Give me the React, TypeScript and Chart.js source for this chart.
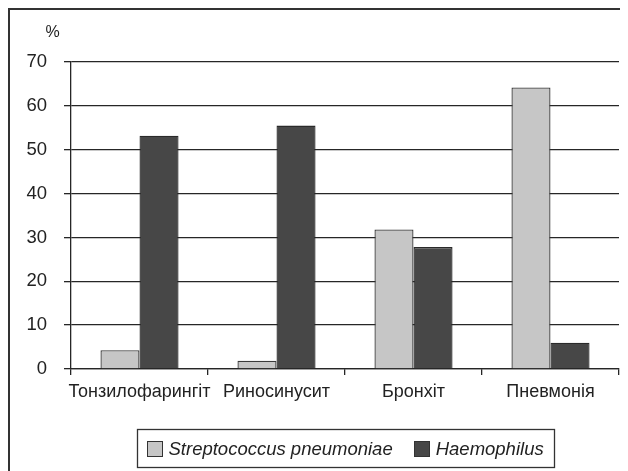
import React, { useEffect, useRef, useState } from "react";
import { Chart, registerables } from "chart.js";

Chart.register(...registerables);

const categories = ["Тонзилофарингіт", "Риносинусит", "Бронхіт", "Пневмонія"];
const streptoLabel = "Streptococcus pneumoniae";
const haemoLabel = "Haemophilus";
const streptoValues = [4.3, 1.9, 31.8, 64.2];
const haemoValues = [53.2, 55.5, 27.8, 6.0];
const yMin = 0;
const yMax = 70;
const yStep = 10;
const unitLabel = "%";

const FONT = "'Liberation Sans', Arial, sans-serif";
const LINE = "#262626";
const W = 628;
const H = 471;

const extrasPlugin = {
  id: "extras",
  beforeDraw(chart: any) {
    const { ctx } = chart;
    ctx.save();
    ctx.fillStyle = "#ffffff";
    ctx.fillRect(0, 0, W, H);
    ctx.strokeStyle = "#333";
    ctx.lineWidth = 2;
    ctx.beginPath();
    ctx.moveTo(9, H);
    ctx.lineTo(9, 9);
    ctx.lineTo(W, 9);
    ctx.stroke();
    ctx.restore();
  },
  afterDraw(chart: any) {
    const { ctx, chartArea } = chart;
    ctx.save();
    ctx.fillStyle = "#222";
    ctx.font = `16px ${FONT}`;
    ctx.textAlign = "center";
    ctx.textBaseline = "middle";
    ctx.fillText(unitLabel, 52.5, 33);

    ctx.font = `italic 18.5px ${FONT}`;
    const ds = chart.data.datasets;
    const sq = 16;
    const gapSq = 6;
    const gapItem = 21;
    const padL = 9;
    const padR = 11;
    let total = padL + padR;
    const widths = ds.map((d: any) => ctx.measureText(d.label).width);
    widths.forEach((w: number, i: number) => {
      total += sq + gapSq + w + (i < ds.length - 1 ? gapItem : 0);
    });
    total = Math.round(total);
    const cx = (chartArea.left + chartArea.right) / 2;
    const left = Math.round(cx - total / 2) + 0.5;
    const top = 429.5;
    const height = 38;
    ctx.strokeStyle = "#333";
    ctx.lineWidth = 1.3;
    ctx.strokeRect(left, top, total, height);
    const midY = top + height / 2;
    let x = left + padL;
    ds.forEach((d: any, i: number) => {
      const sx = Math.round(x);
      const sy = Math.round(midY - sq / 2);
      ctx.fillStyle = d.backgroundColor;
      ctx.fillRect(sx, sy, sq, sq);
      ctx.strokeStyle = "#333";
      ctx.lineWidth = 1;
      ctx.strokeRect(sx + 0.5, sy + 0.5, sq - 1, sq - 1);
      x += sq + gapSq;
      ctx.fillStyle = "#222";
      ctx.textAlign = "left";
      ctx.textBaseline = "middle";
      ctx.fillText(d.label, x, midY + 1);
      x += widths[i] + gapItem;
    });
    ctx.restore();
  },
};

export default function App() {
  const ref = useRef<HTMLCanvasElement>(null);
  const [err, setErr] = useState("");
  useEffect(() => {
    document.documentElement.style.overflow = "hidden";
    if (!ref.current) return;
    let chart: any = null;
    try {
      chart = new Chart(ref.current, {
        type: "bar",
        data: {
          labels: categories,
          datasets: [
            {
              label: streptoLabel,
              data: streptoValues,
              backgroundColor: "#c6c6c6",
              borderColor: "#3a3a3a",
              borderWidth: 1.3,
              categoryPercentage: 0.57,
              barPercentage: 1,
            },
            {
              label: haemoLabel,
              data: haemoValues,
              backgroundColor: "#474747",
              borderColor: "#2a2a2a",
              borderWidth: 1.3,
              categoryPercentage: 0.57,
              barPercentage: 1,
            },
          ],
        },
        options: {
          responsive: false,
          animation: false,
          layout: { padding: { top: 62, right: 9, bottom: 0, left: 0 } },
          plugins: {
            legend: { display: false },
            tooltip: { enabled: false },
            title: { display: false },
          },
          scales: {
            x: {
              offset: true,
              grid: {
                offset: true,
                drawOnChartArea: false,
                drawTicks: true,
                tickLength: 6,
                color: LINE,
                lineWidth: 1.3,
              },
              border: { display: true, color: LINE, width: 1.3 },
              ticks: {
                color: "#222",
                font: { family: FONT, size: 18 },
                padding: 6,
                maxRotation: 0,
                autoSkip: false,
              },
              afterFit: (scale: any) => {
                scale.height = 102;
              },
            },
            y: {
              min: yMin,
              max: yMax,
              grid: {
                color: LINE,
                lineWidth: 1.3,
                drawTicks: true,
                tickLength: 7,
              },
              border: { display: true, color: LINE, width: 1.3 },
              ticks: {
                stepSize: yStep,
                color: "#222",
                font: { family: FONT, size: 18.5 },
                padding: 17,
              },
              afterFit: (scale: any) => {
                scale.width = 71;
              },
            },
          },
        },
        plugins: [extrasPlugin],
      });
    } catch (e: any) {
      setErr(String(e && e.stack ? e.stack : e));
    }
    return () => {
      if (chart) chart.destroy();
    };
  }, []);

  return (
    <div style={{ position: "relative", width: 620, height: 463 }}>
      <canvas
        ref={ref}
        width={W}
        height={H}
        style={{ position: "absolute", left: -8, top: -8, width: W, height: H, display: "block" }}
      />
      {err ? (
        <pre style={{ position: "absolute", left: 10, top: 10, fontSize: 10, color: "red", whiteSpace: "pre-wrap" }}>{err}</pre>
      ) : null}
    </div>
  );
}
